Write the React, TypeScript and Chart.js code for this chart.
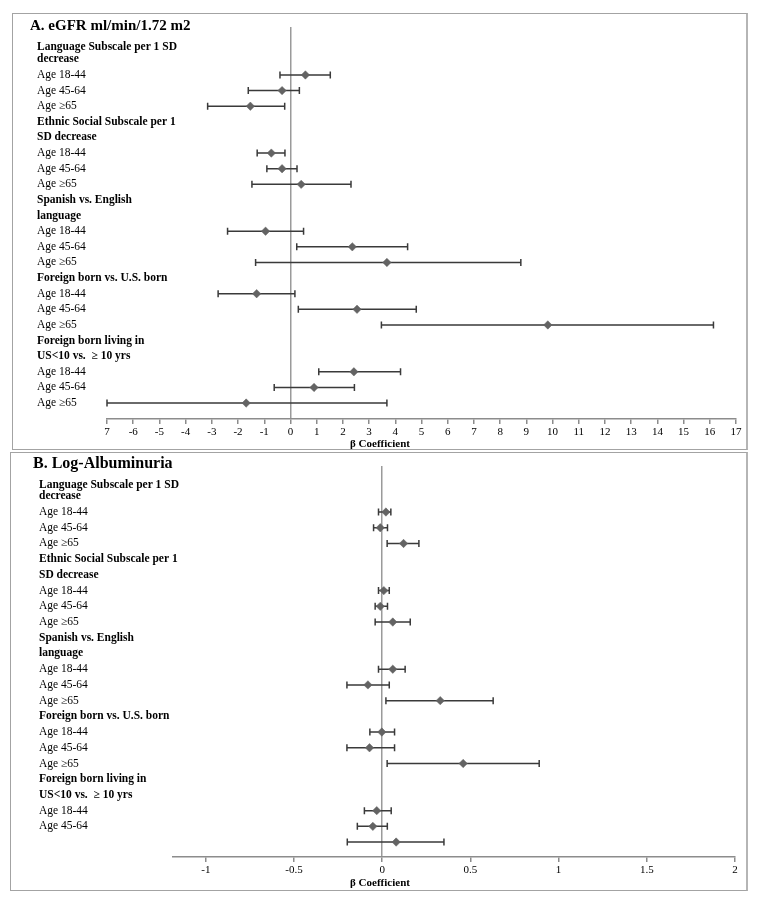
import React, { useEffect, useRef } from 'react';
import { Chart, registerables } from 'chart.js';

Chart.register(...registerables);

// ---------- data ----------
const rowLabelsA: string[] = [
  'Language Subscale per 1 SD', 'decrease', 'Age 18-44', 'Age 45-64', 'Age \u226565',
  'Ethnic Social Subscale per 1', 'SD decrease', 'Age 18-44', 'Age 45-64', 'Age \u226565',
  'Spanish vs. English', 'language', 'Age 18-44', 'Age 45-64', 'Age \u226565',
  'Foreign born vs. U.S. born', 'Age 18-44', 'Age 45-64', 'Age \u226565',
  'Foreign born living in', 'US<10 vs.  \u2265 10 yrs', 'Age 18-44', 'Age 45-64', 'Age \u226565',
];
const rowLabelsB: string[] = [
  'Language Subscale per 1 SD', 'decrease', 'Age 18-44', 'Age 45-64', 'Age \u226565',
  'Ethnic Social Subscale per 1', 'SD decrease', 'Age 18-44', 'Age 45-64', 'Age \u226565',
  'Spanish vs. English', 'language', 'Age 18-44', 'Age 45-64', 'Age \u226565',
  'Foreign born vs. U.S. born', 'Age 18-44', 'Age 45-64', 'Age \u226565',
  'Foreign born living in', 'US<10 vs.  \u2265 10 yrs', 'Age 18-44', 'Age 45-64', '',
];

// A. eGFR beta coefficients (null = header row)
const eGFR_est: (number | null)[] = [
  null, null, 0.57, -0.32, -1.53,
  null, null, -0.73, -0.32, 0.41,
  null, null, -0.95, 2.36, 3.68,
  null, -1.29, 2.54, 9.82,
  null, null, 2.42, 0.9, -1.69,
];
const eGFR_lo: (number | null)[] = [
  null, null, -0.4, -1.61, -3.16,
  null, null, -1.27, -0.9, -1.47,
  null, null, -2.4, 0.24, -1.33,
  null, -2.76, 0.3, 3.47,
  null, null, 1.08, -0.62, -7.0,
];
const eGFR_hi: (number | null)[] = [
  null, null, 1.52, 0.34, -0.22,
  null, null, -0.21, 0.25, 2.31,
  null, null, 0.5, 4.47, 8.79,
  null, 0.17, 4.8, 16.14,
  null, null, 4.2, 2.44, 3.68,
];
const eGFR_ticks: number[] = [-7, -6, -5, -4, -3, -2, -1, 0, 1, 2, 3, 4, 5, 6, 7, 8, 9, 10, 11, 12, 13, 14, 15, 16, 17];
const eGFR_tickLabels: string[] = ['7', '-6', '-5', '-4', '-3', '-2', '-1', '0', '1', '2', '3', '4', '5', '6', '7', '8', '9', '10', '11', '12', '13', '14', '15', '16', '17'];

// B. Log-Albuminuria beta coefficients
const alb_est: (number | null)[] = [
  null, null, 0.021, -0.011, 0.121,
  null, null, 0.009, -0.011, 0.06,
  null, null, 0.06, -0.081, 0.329,
  null, -0.002, -0.072, 0.459,
  null, null, -0.031, -0.053, 0.079,
];
const alb_lo: (number | null)[] = [
  null, null, -0.021, -0.049, 0.028,
  null, null, -0.021, -0.04, -0.04,
  null, null, -0.021, -0.2, 0.021,
  null, -0.07, -0.2, 0.028,
  null, null, -0.101, -0.141, -0.198,
];
const alb_hi: (number | null)[] = [
  null, null, 0.049, 0.03, 0.208,
  null, null, 0.04, 0.03, 0.159,
  null, null, 0.13, 0.04, 0.629,
  null, 0.07, 0.07, 0.89,
  null, null, 0.051, 0.029, 0.35,
];
const alb_ticks: number[] = [-1, -0.5, 0, 0.5, 1, 1.5, 2];
const alb_tickLabels: string[] = ['-1', '-0.5', '0', '0.5', '1', '1.5', '2'];

const SERIF = "'Liberation Serif', 'Times New Roman', serif";

type PanelProps = {
  title: string;
  titleSize: number;
  titleX: number;
  titleY: number;
  labels: string[];
  est: (number | null)[];
  lo: (number | null)[];
  hi: (number | null)[];
  xmin: number;
  xmax: number;
  ticks: number[];
  tickLabels: string[];
  ymin: number;
  ymax: number;
  box: { left: number; top: number; width: number; height: number };
  padLeft: number;
  padRight: number;
  padTop: number;
  yAxisW: number;
  xAxisH: number;
  axisTitleY: number;
  axisTitleX: number;
  firstLineShift: number;
};

const isHeader = (s: string | undefined) => !!s && !s.startsWith('Age');

function ForestPanel(p: PanelProps) {
  const ref = useRef<HTMLCanvasElement>(null);
  const cw = p.box.width - 3;
  const ch = p.box.height - 2;

  useEffect(() => {
    const canvas = ref.current!;
    const errorBars = {
      id: 'errorBars',
      beforeDatasetsDraw(chart: any) {
        const { ctx, scales } = chart;
        const xs = scales.x;
        const ys = scales.y;
        ctx.save();
        ctx.strokeStyle = '#3a3a3a';
        ctx.lineWidth = 1.5;
        p.lo.forEach((l, i) => {
          const h = p.hi[i];
          if (l == null || h == null) return;
          const yy = ys.getPixelForValue(i);
          const x1 = xs.getPixelForValue(l);
          const x2 = xs.getPixelForValue(h);
          ctx.beginPath();
          ctx.moveTo(x1, yy);
          ctx.lineTo(x2, yy);
          ctx.moveTo(x1, yy - 3.5);
          ctx.lineTo(x1, yy + 3.5);
          ctx.moveTo(x2, yy - 3.5);
          ctx.lineTo(x2, yy + 3.5);
          ctx.stroke();
        });
        ctx.restore();
      },
    };
    const texts = {
      id: 'texts',
      afterDraw(chart: any) {
        const { ctx } = chart;
        ctx.save();
        ctx.fillStyle = '#000';
        ctx.textBaseline = 'middle';
        ctx.textAlign = 'left';
        ctx.font = `bold ${p.titleSize}px ${SERIF}`;
        ctx.fillText(p.title, p.titleX, p.titleY);
        ctx.textAlign = 'center';
        ctx.font = `bold 11px ${SERIF}`;
        ctx.fillText('\u03b2 Coefficient', p.axisTitleX, p.axisTitleY);
        ctx.restore();
      },
    };

    const points = p.est
      .map((v, i) => (v == null ? null : { x: v, y: i }))
      .filter((d) => d !== null) as { x: number; y: number }[];

    const chart = new Chart(canvas, {
      type: 'scatter',
      data: {
        datasets: [
          {
            data: points,
            pointStyle: 'rectRot',
            radius: 4.2,
            backgroundColor: '#636363',
            borderColor: '#636363',
            borderWidth: 0.5,
            showLine: false,
          },
        ],
      },
      options: {
        animation: false,
        responsive: false,
        devicePixelRatio: 1,
        layout: { padding: { left: p.padLeft, right: p.padRight, top: p.padTop, bottom: 0 } },
        plugins: { legend: { display: false }, tooltip: { enabled: false }, title: { display: false } },
        scales: {
          x: {
            type: 'linear',
            min: p.xmin,
            max: p.xmax,
            afterBuildTicks: (s: any) => {
              s.ticks = p.ticks.map((v) => ({ value: v }));
            },
            afterFit: (s: any) => {
              s.height = p.xAxisH;
            },
            ticks: {
              autoSkip: false,
              maxRotation: 0,
              minRotation: 0,
              padding: 2,
              color: '#000',
              font: { family: SERIF, size: 11 },
              callback: (v: any) => {
                const k = p.ticks.indexOf(Number(v));
                return k >= 0 ? p.tickLabels[k] : '';
              },
            },
            grid: {
              display: true,
              drawOnChartArea: true,
              drawTicks: true,
              tickLength: 5,
              tickColor: '#8c8c8c',
              lineWidth: 1.5,
              color: (c: any) => (c.tick && c.tick.value === 0 ? '#9a9a9a' : 'rgba(0,0,0,0)'),
            },
            border: { display: true, color: '#8c8c8c', width: 1.5 },
          },
          y: {
            type: 'linear',
            reverse: true,
            min: p.ymin,
            max: p.ymax,
            afterBuildTicks: (s: any) => {
              s.ticks = p.labels.map((_, i) => ({ value: i === 0 ? p.firstLineShift : i }));
            },
            afterFit: (s: any) => {
              s.width = p.yAxisW;
            },
            ticks: {
              autoSkip: false,
              mirror: true,
              crossAlign: 'near',
              padding: -p.yAxisW,
              color: '#000',
              font: (c: any) => ({
                family: SERIF,
                size: 11.5,
                weight: isHeader(p.labels[Math.round(c.tick ? c.tick.value : c.index)]) ? 'bold' : 'normal',
              }),
              callback: (v: any) => p.labels[Math.round(Number(v))] ?? '',
            },
            grid: { display: false },
            border: { display: false },
          },
        },
      } as any,
      plugins: [errorBars, texts],
    });
    return () => chart.destroy();
  }, []);

  return (
    <div
      style={{
        position: 'absolute',
        left: p.box.left,
        top: p.box.top,
        width: p.box.width,
        height: p.box.height,
        borderTop: '1px solid #a3a3a3',
        borderLeft: '1px solid #a3a3a3',
        borderBottom: '1px solid #a3a3a3',
        borderRight: '2px solid #b5b5b5',
        boxSizing: 'border-box',
        background: '#fff',
      }}
    >
      <canvas ref={ref} width={cw} height={ch} style={{ display: 'block', width: cw, height: ch }} />
    </div>
  );
}

export default function App() {
  return (
    <div style={{ height: 886 }}>
      <ForestPanel
        title="A. eGFR ml/min/1.72 m2"
        titleSize={15}
        titleX={17}
        titleY={12}
        labels={rowLabelsA}
        est={eGFR_est}
        lo={eGFR_lo}
        hi={eGFR_hi}
        xmin={-7}
        xmax={17}
        ticks={eGFR_ticks}
        tickLabels={eGFR_tickLabels}
        ymin={-1.07}
        ymax={24.02}
        box={{ left: 12, top: 13, width: 736, height: 437 }}
        padLeft={24}
        padRight={10}
        padTop={13}
        yAxisW={70}
        xAxisH={30}
        axisTitleX={367}
        axisTitleY={430}
        firstLineShift={0.2}
      />
      <ForestPanel
        title="B. Log-Albuminuria"
        titleSize={16}
        titleX={22}
        titleY={11}
        labels={rowLabelsB}
        est={alb_est}
        lo={alb_lo}
        hi={alb_hi}
        xmin={-1.186}
        xmax={2}
        ticks={alb_ticks}
        tickLabels={alb_tickLabels}
        ymin={-0.93}
        ymax={23.95}
        box={{ left: 10, top: 452, width: 738, height: 439 }}
        padLeft={28}
        padRight={11}
        padTop={13}
        yAxisW={134}
        xAxisH={33}
        axisTitleX={369}
        axisTitleY={430}
        firstLineShift={0.3}
      />
    </div>
  );
}
